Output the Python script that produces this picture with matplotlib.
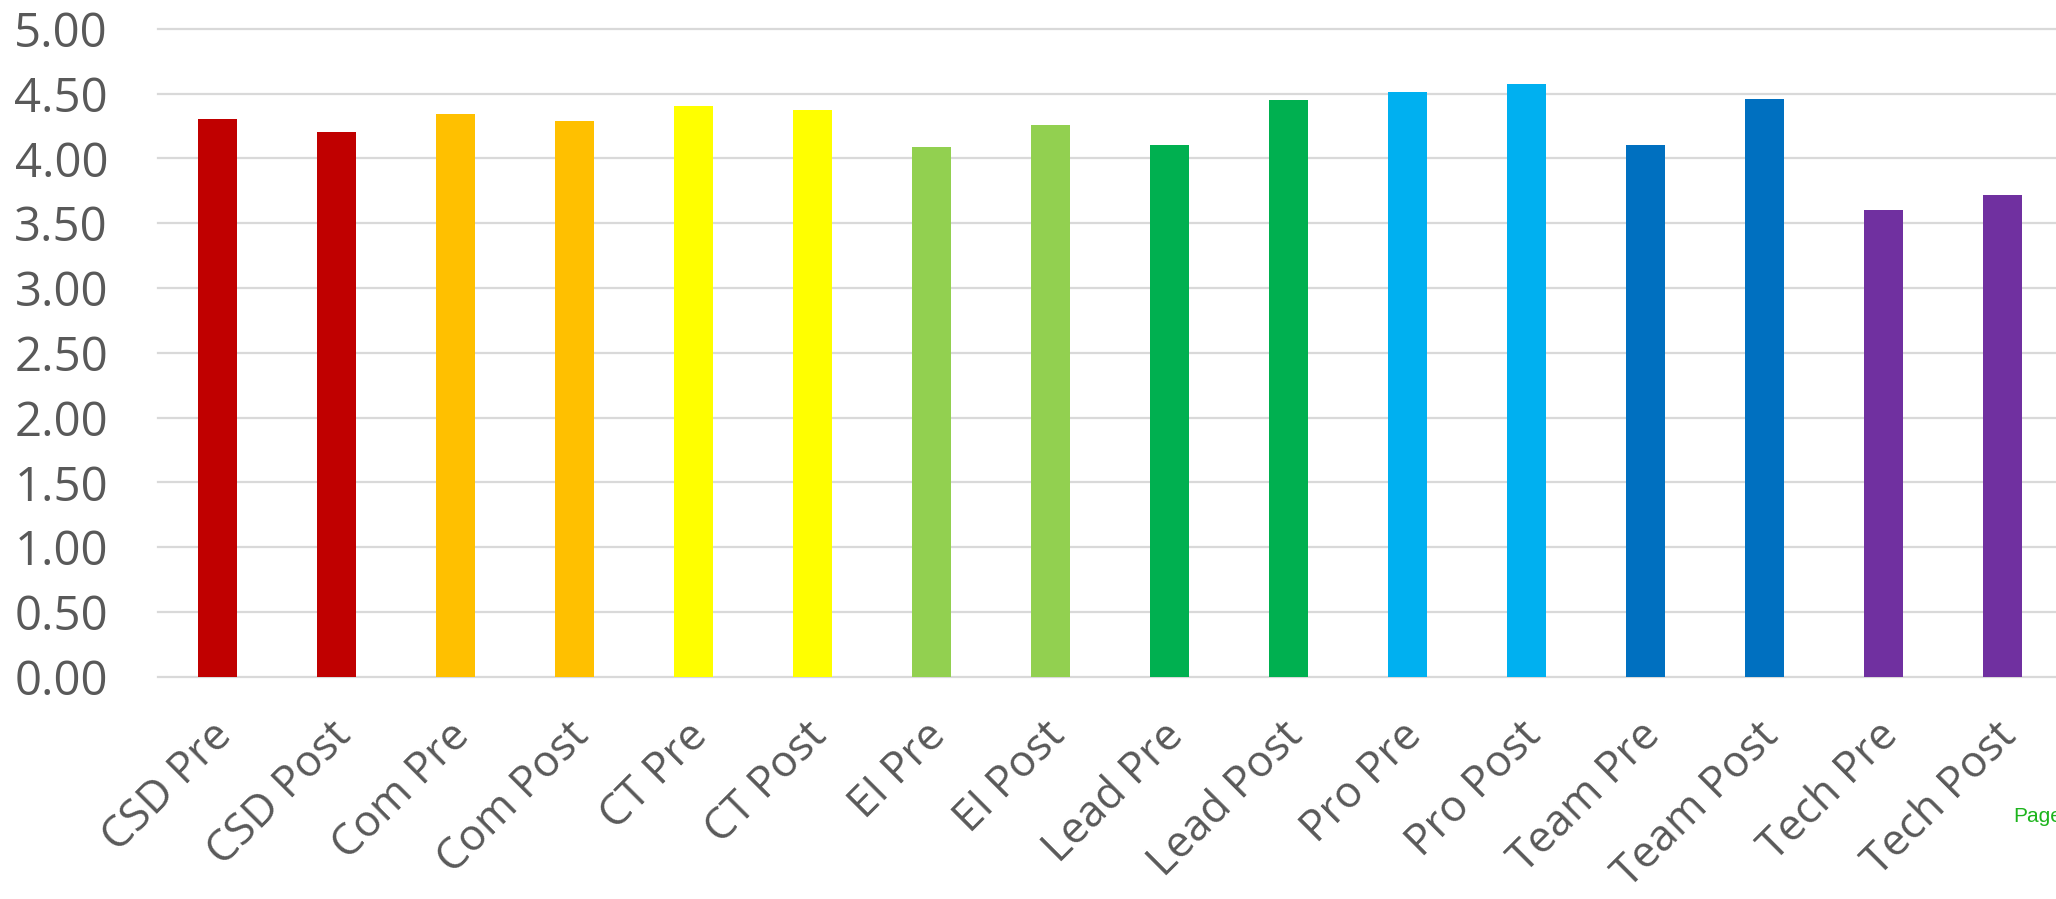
import matplotlib
matplotlib.use("Agg")
import matplotlib.pyplot as plt
import matplotlib.transforms as mtransforms
import numpy as np

categories = ["CSD Pre", "CSD Post", "Com Pre", "Com Post", "CT Pre", "CT Post",
              "EI Pre", "EI Post", "Lead Pre", "Lead Post", "Pro Pre", "Pro Post",
              "Team Pre", "Team Post", "Tech Pre", "Tech Post"]
values = [4.30, 4.20, 4.34, 4.29, 4.40, 4.37, 4.09, 4.26, 4.10, 4.45,
          4.51, 4.57, 4.10, 4.46, 3.60, 3.72]
colors = ["#C00000", "#C00000", "#FFC000", "#FFC000", "#FFFF00", "#FFFF00",
          "#92D050", "#92D050", "#00B050", "#00B050", "#00B0F0", "#00B0F0",
          "#0070C0", "#0070C0", "#7030A0", "#7030A0"]
yticks = [0.0, 0.5, 1.0, 1.5, 2.0, 2.5, 3.0, 3.5, 4.0, 4.5, 5.0]

plt.rcParams['font.family'] = ['Open Sans', 'DejaVu Sans']

W, H = 2056, 899
fig = plt.figure(figsize=(W / 100, H / 100), dpi=100)
left = 158 / W
bottom = (H - 676.7) / H
height = (676.7 - 28.7) / H
width = 1904 / W
ax = fig.add_axes([left, bottom, width, height])

x = np.arange(len(categories))
ax.bar(x, values, width=0.32, color=colors, zorder=3)

ax.set_xlim(-0.5, len(categories) - 0.5)
ax.set_ylim(0, 5)
ax.set_yticks(yticks)
ax.set_yticklabels([f"{v:.2f}" for v in yticks])
for v in yticks:
    ax.axhline(v, color="#D9D9D9", linewidth=1.6, zorder=1, clip_on=False)

for s in ax.spines.values():
    s.set_visible(False)

ax.tick_params(axis="y", length=0, pad=36, labelsize=34, labelcolor="#595959")
ax.tick_params(axis="x", length=0, pad=38, labelsize=31.5, labelcolor="#595959")
ax.set_xticks(x)
ax.set_xticklabels(categories, rotation=45, ha="right", va="center",
                   rotation_mode="anchor")
offset = mtransforms.ScaledTranslation(8 / 100, 0, fig.dpi_scale_trans)
for lab in ax.get_xticklabels():
    lab.set_transform(lab.get_transform() + offset)

fig.text(2013 / W, 1 - 817 / H, "Page", color="#1DB41D", fontsize=15,
         family="Liberation Sans", va="center", ha="left")

fig.savefig("out.png", dpi=100)
